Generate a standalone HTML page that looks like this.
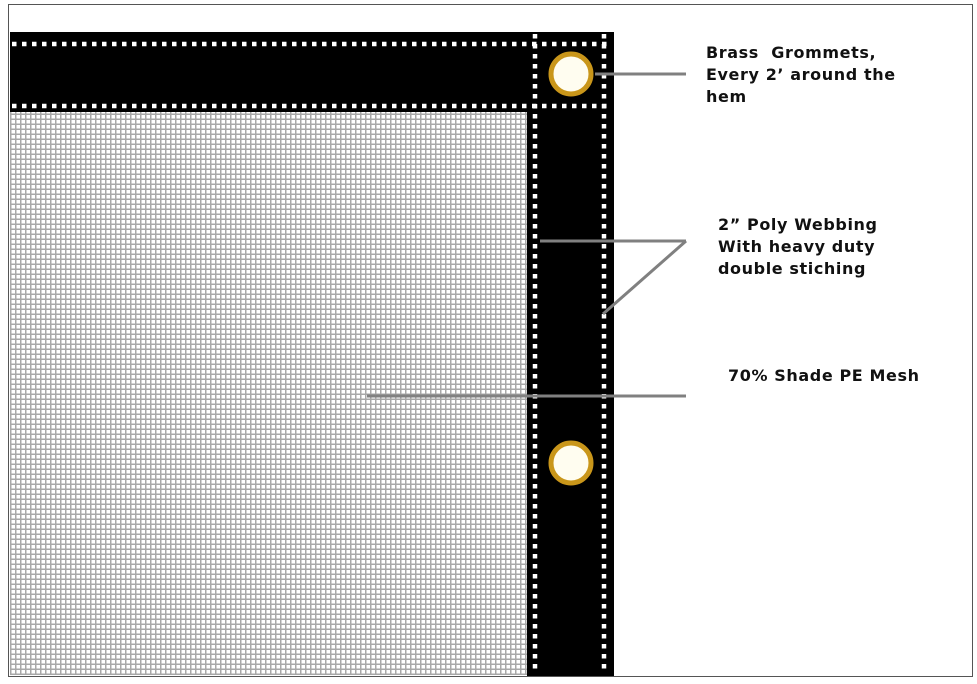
<!DOCTYPE html>
<html><head><style>
body{margin:0;width:977px;height:684px;background:#fff;position:relative;overflow:hidden}
.a{position:absolute}
.mesh{left:10px;top:112px;width:517px;height:563px;background-color:#fff;
background-image:repeating-linear-gradient(90deg,#a8a8a8 0 1.5px,transparent 1.5px 5px),repeating-linear-gradient(0deg,#a8a8a8 0 1.5px,transparent 1.5px 5px)}
.t{font-family:"DejaVu Sans","Liberation Sans",sans-serif;font-weight:bold;font-size:16px;line-height:22px;color:#111;letter-spacing:0.6px}
</style></head><body>
<div class="a" style="left:8px;top:4px;width:963px;height:671px;border:1.5px solid #555"></div>
<div class="a mesh"></div>
<svg class="a" style="left:0;top:0" width="977" height="684">
<rect x="10" y="32" width="604" height="80" fill="#000"/>
<rect x="527" y="32" width="87" height="644" fill="#000"/>
<g>
<line x1="12" y1="44" x2="612" y2="44" stroke="#fff" stroke-width="4.5" stroke-dasharray="4.5 5.5"/>
<line x1="12" y1="106" x2="612" y2="106" stroke="#fff" stroke-width="4.5" stroke-dasharray="4.5 5.5"/>
<line x1="535" y1="34" x2="535" y2="672" stroke="#fff" stroke-width="4.5" stroke-dasharray="4.5 5.5"/>
<line x1="604" y1="34" x2="604" y2="672" stroke="#fff" stroke-width="4.5" stroke-dasharray="4.5 5.5"/>
</g>
<g>
<circle cx="571" cy="74" r="20" fill="#fffdf0" stroke="#c9961a" stroke-width="5"/>
<circle cx="571" cy="463" r="20" fill="#fffdf0" stroke="#c9961a" stroke-width="5"/>
</g>
<g stroke="#808080" stroke-width="3" fill="none">
<line x1="595" y1="74" x2="686" y2="74"/>
<line x1="540" y1="241" x2="686" y2="241"/>
<line x1="686" y1="241" x2="603" y2="314"/>
<line x1="367" y1="396" x2="686" y2="396"/>
</g>
</svg>
<div class="a t" style="left:706px;top:42px">Brass&nbsp; Grommets,<br>Every 2’ around the<br>hem</div>
<div class="a t" style="left:718px;top:214px">2” Poly Webbing<br>With heavy duty<br>double stiching</div>
<div class="a t" style="left:728px;top:365px">70% Shade PE Mesh</div>
</body></html>
